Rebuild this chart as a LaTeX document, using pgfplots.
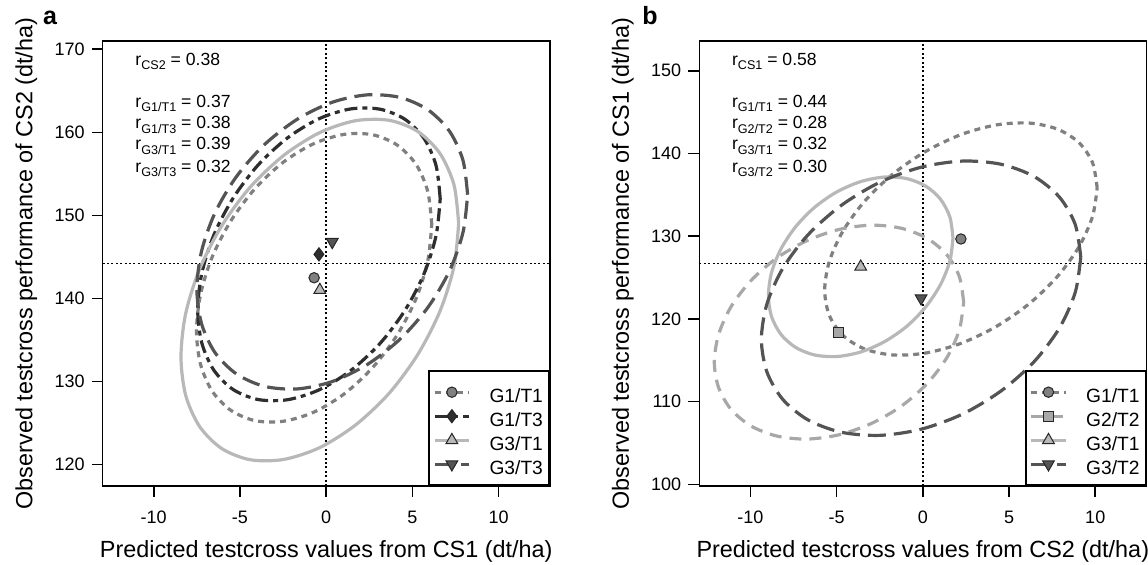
\documentclass[border=0pt]{standalone}
\usepackage{fontspec}
\setmainfont{Liberation Sans}
\usepackage{pgfplots}
\pgfplotsset{compat=1.18}
\definecolor{cmed}{HTML}{808080}
\definecolor{cdark}{HTML}{2E2E2E}
\definecolor{clight}{HTML}{B8B8B8}
\definecolor{cdgray}{HTML}{545454}
\definecolor{clgray}{HTML}{A8A8A8}
\newcommand{\sub}[1]{\raisebox{-2.2pt}{\fontsize{6.3}{7}\selectfont #1}}
\tikzset{
  sG1T1/.style={cmed, line width=1.6pt, dash pattern=on 3pt off 2.5pt},
  sG1T3/.style={cdark, line width=1.6pt, dash pattern=on 6.5pt off 2.5pt on 2.5pt off 2.5pt},
  sG3T1/.style={clight, line width=1.6pt, solid},
  sG3T3/.style={cdgray, line width=1.6pt, dash pattern=on 9pt off 4pt},
  sG2T2/.style={clgray, line width=1.6pt, dash pattern=on 6pt off 4pt},
  mk/.style={solid, draw=black!85, line width=0.5pt},
  refline/.style={black, line width=0.8pt, dash pattern=on 1pt off 1.2pt},
  ann/.style={anchor=west, font=\fontsize{8.8}{10}\selectfont, inner sep=0pt},
  letter/.style={anchor=base, font=\bfseries\fontsize{12.5}{14}\selectfont},
}
\pgfplotsset{
  panel/.style={
    scale only axis, width=223.5pt, height=222.5pt,
    xmin=-12.96, xmax=12.96, clip=false,
    axis line style={line width=0.8pt},
    tick style={black, line width=0.8pt},
    tick align=outside, major tick length=5.5pt,
    xtick pos=bottom, ytick pos=left,
    xtick={-10,-5,0,5,10}, xticklabels={-10,-5,0,5,10},
    tick label style={font=\fontsize{9}{10}\selectfont},
    xticklabel style={yshift=-3.5pt},
    label style={font=\fontsize{11.7}{14}\selectfont},
    xlabel style={at={(axis description cs:0.5,-0.1476)}, anchor=center},
    ylabel style={at={(axis description cs:-0.171,0.5)}, anchor=center},
    legend style={at={(1,0)}, anchor=south east, draw=black, line width=0.8pt,
      font=\fontsize{9.6}{11}\selectfont, inner xsep=2pt, inner ysep=4.5pt,
      row sep=0pt, column sep=8.5pt,
      nodes={inner xsep=1pt, inner ysep=0pt, text height=11pt, text depth=1pt}},
    legend cell align=left,
  }
}
\begin{document}
\begin{tikzpicture}
\path[use as bounding box] (0,0) rectangle (574pt,282.5pt);
% ---------------- panel a ----------------
\begin{axis}[panel, at={(51.35pt,39.5pt)}, anchor=south west,
  ymin=117.4, ymax=171,
  ytick={120,130,140,150,160,170}, yticklabels={120,130,140,150,160,170},
  xlabel={Predicted testcross values from CS1 (dt/ha)},
  ylabel={Observed testcross performance of CS2 (dt/ha)}]
\addplot[refline, forget plot] coordinates {(-12.96,144.2) (12.96,144.2)};
\addplot[refline, forget plot] coordinates {(0,117.4) (0,171)};
% G1/T1
\addplot[sG1T1, smooth, forget plot] coordinates {
(6.12,148.92) (5.89,152.88) (5.21,156.14) (4.12,158.46) (2.71,159.70) (1.07,159.76)
(-0.70,158.65) (-2.47,156.43) (-4.11,153.26) (-5.52,149.36) (-6.61,144.99) (-7.29,140.45)
(-7.52,136.04) (-7.29,132.08) (-6.61,128.82) (-5.52,126.50) (-4.11,125.26) (-2.47,125.20)
(-0.70,126.31) (1.07,128.53) (2.71,131.70) (4.12,135.60) (5.21,139.97) (5.89,144.51) (6.12,148.92)};
% G1/T3
\addplot[sG1T3, smooth, forget plot] coordinates {
(6.61,152.01) (6.37,156.00) (5.67,159.27) (4.55,161.59) (3.10,162.79) (1.40,162.81)
(-0.42,161.63) (-2.24,159.33) (-3.94,156.08) (-5.39,152.10) (-6.51,147.66) (-7.21,143.05)
(-7.45,138.59) (-7.21,134.60) (-6.51,131.33) (-5.39,129.01) (-3.94,127.81) (-2.24,127.79)
(-0.42,128.97) (1.40,131.27) (3.10,134.52) (4.55,138.50) (5.67,142.94) (6.37,147.55) (6.61,152.01)};
% G3/T1
\addplot[sG3T1, smooth, forget plot] coordinates {
(7.68,149.03) (7.41,153.67) (6.60,157.44) (5.32,160.09) (3.66,161.44) (1.71,161.40)
(-0.37,159.97) (-2.45,157.24) (-4.40,153.41) (-6.06,148.73) (-7.34,143.53) (-8.15,138.15)
(-8.42,132.97) (-8.15,128.33) (-7.34,124.56) (-6.06,121.91) (-4.40,120.56) (-2.45,120.60)
(-0.37,122.03) (1.71,124.76) (3.66,128.59) (5.32,133.27) (6.60,138.47) (7.41,143.85) (7.68,149.03)};
% G3/T3
\addplot[sG3T3, smooth, forget plot] coordinates {
(8.20,152.48) (7.93,156.64) (7.15,160.13) (5.90,162.71) (4.28,164.20) (2.38,164.51)
(0.35,163.62) (-1.68,161.57) (-3.58,158.52) (-5.20,154.68) (-6.45,150.29) (-7.23,145.67)
(-7.50,141.12) (-7.23,136.96) (-6.45,133.47) (-5.20,130.89) (-3.58,129.40) (-1.68,129.09)
(0.35,129.98) (2.38,132.03) (4.28,135.08) (5.90,138.92) (7.15,143.31) (7.93,147.93) (8.20,152.48)};
% centres
\addplot[only marks, mark=*, mark size=2.6pt, mark options={mk, fill=cmed}, forget plot] coordinates {(-0.70,142.48)};
\addplot[only marks, mark=diamond*, mark size=3.3pt, mark options={mk, fill=cdark}, forget plot] coordinates {(-0.42,145.3)};
\addplot[only marks, mark=triangle*, mark size=3.4pt, mark options={mk, fill=clight}, forget plot] coordinates {(-0.37,141.0)};
\addplot[only marks, mark=triangle*, mark size=3.4pt, mark options={mk, fill=cdgray, rotate=180}, forget plot] coordinates {(0.35,146.8)};
\addlegendimage{sG1T1, mark=*, mark size=2.6pt, mark options={mk, fill=cmed}}
\addlegendentry{G1/T1}
\addlegendimage{sG1T3, mark=diamond*, mark size=3.3pt, mark options={mk, fill=cdark}}
\addlegendentry{G1/T3}
\addlegendimage{sG3T1, mark=triangle*, mark size=3.4pt, mark options={mk, fill=clight}}
\addlegendentry{G3/T1}
\addlegendimage{sG3T3, mark=triangle*, mark size=3.4pt, mark options={mk, fill=cdgray, rotate=180}}
\addlegendentry{G3/T3}
\node[ann] at (rel axis cs:0.0724,0.9535) {r\sub{CS2} = 0.38};
\node[ann] at (rel axis cs:0.0724,0.8600) {r\sub{G1/T1} = 0.37};
\node[ann] at (rel axis cs:0.0724,0.8112) {r\sub{G1/T3} = 0.38};
\node[ann] at (rel axis cs:0.0724,0.7640) {r\sub{G3/T1} = 0.39};
\node[ann] at (rel axis cs:0.0724,0.7139) {r\sub{G3/T3} = 0.32};
\node[letter] at (axis description cs:-0.118,1.036) {a};
\end{axis}
% ---------------- panel b ----------------
\begin{axis}[panel, at={(349.65pt,39.5pt)}, anchor=south west,
  ymin=99.8, ymax=153.6,
  ytick={100,110,120,130,140,150}, yticklabels={100,110,120,130,140,150},
  xlabel={Predicted testcross values from CS2 (dt/ha)},
  ylabel={Observed testcross performance of CS1 (dt/ha)}]
\addplot[refline, forget plot] coordinates {(-12.96,126.7) (12.96,126.7)};
\addplot[refline, forget plot] coordinates {(0,99.8) (0,153.6)};
% G1/T1
\addplot[sG1T1, smooth, forget plot] coordinates {
(10.11,135.84) (9.84,138.90) (9.05,141.32) (7.80,142.95) (6.16,143.68) (4.26,143.45)
(2.21,142.28) (0.17,140.25) (-1.74,137.50) (-3.38,134.21) (-4.63,130.62) (-5.42,126.95)
(-5.69,123.48) (-5.42,120.42) (-4.63,118.00) (-3.38,116.37) (-1.74,115.64) (0.16,115.87)
(2.21,117.04) (4.25,119.07) (6.16,121.82) (7.80,125.11) (9.05,128.70) (9.84,132.37) (10.11,135.84)};
% G2/T2
\addplot[sG2T2, smooth, forget plot] coordinates {
(2.37,122.02) (2.12,125.11) (1.40,127.74) (0.25,129.74) (-1.25,130.96) (-2.99,131.33)
(-4.86,130.81) (-6.73,129.45) (-8.48,127.34) (-9.97,124.62) (-11.12,121.47) (-11.84,118.12)
(-12.09,114.78) (-11.84,111.69) (-11.12,109.06) (-9.97,107.06) (-8.47,105.84) (-6.73,105.47)
(-4.86,105.99) (-2.99,107.35) (-1.24,109.46) (0.25,112.18) (1.40,115.33) (2.12,118.68) (2.37,122.02)};
% G3/T1
\addplot[sG3T1, smooth, forget plot] coordinates {
(1.75,129.78) (1.57,132.32) (1.03,134.46) (0.18,136.04) (-0.93,136.96) (-2.22,137.15)
(-3.60,136.60) (-4.99,135.35) (-6.28,133.48) (-7.38,131.12) (-8.23,128.44) (-8.77,125.61)
(-8.95,122.82) (-8.77,120.28) (-8.23,118.14) (-7.38,116.56) (-6.28,115.64) (-4.98,115.45)
(-3.60,116.00) (-2.22,117.25) (-0.92,119.12) (0.18,121.48) (1.03,124.16) (1.57,126.99) (1.75,129.78)};
% G3/T2
\addplot[sG3T3, smooth, forget plot] coordinates {
(9.16,127.48) (8.84,131.41) (7.92,134.73) (6.45,137.22) (4.53,138.70) (2.30,139.08)
(-0.10,138.34) (-2.50,136.51) (-4.73,133.72) (-6.65,130.18) (-8.12,126.11) (-9.04,121.79)
(-9.36,117.52) (-9.04,113.59) (-8.12,110.27) (-6.65,107.78) (-4.73,106.30) (-2.50,105.92)
(-0.10,106.66) (2.30,108.49) (4.53,111.28) (6.45,114.82) (7.92,118.89) (8.84,123.21) (9.16,127.48)};
% centres
\addplot[only marks, mark=*, mark size=2.6pt, mark options={mk, fill=cmed}, forget plot] coordinates {(2.21,129.66)};
\addplot[only marks, mark=square*, mark size=2.5pt, mark options={mk, fill=clgray}, forget plot] coordinates {(-4.86,118.4)};
\addplot[only marks, mark=triangle*, mark size=3.4pt, mark options={mk, fill=clight}, forget plot] coordinates {(-3.6,126.3)};
\addplot[only marks, mark=triangle*, mark size=3.4pt, mark options={mk, fill=cdgray, rotate=180}, forget plot] coordinates {(-0.1,122.5)};
\addlegendimage{sG1T1, mark=*, mark size=2.6pt, mark options={mk, fill=cmed}}
\addlegendentry{G1/T1}
\addlegendimage{sG2T2, mark=square*, mark size=2.5pt, mark options={mk, fill=clgray}}
\addlegendentry{G2/T2}
\addlegendimage{sG3T1, mark=triangle*, mark size=3.4pt, mark options={mk, fill=clight}}
\addlegendentry{G3/T1}
\addlegendimage{sG3T3, mark=triangle*, mark size=3.4pt, mark options={mk, fill=cdgray, rotate=180}}
\addlegendentry{G3/T2}
\node[ann] at (rel axis cs:0.0724,0.9535) {r\sub{CS1} = 0.58};
\node[ann] at (rel axis cs:0.0724,0.8600) {r\sub{G1/T1} = 0.44};
\node[ann] at (rel axis cs:0.0724,0.8112) {r\sub{G2/T2} = 0.28};
\node[ann] at (rel axis cs:0.0724,0.7640) {r\sub{G3/T1} = 0.32};
\node[ann] at (rel axis cs:0.0724,0.7139) {r\sub{G3/T2} = 0.30};
\node[letter] at (axis description cs:-0.110,1.036) {b};
\end{axis}
\end{tikzpicture}
\end{document}
